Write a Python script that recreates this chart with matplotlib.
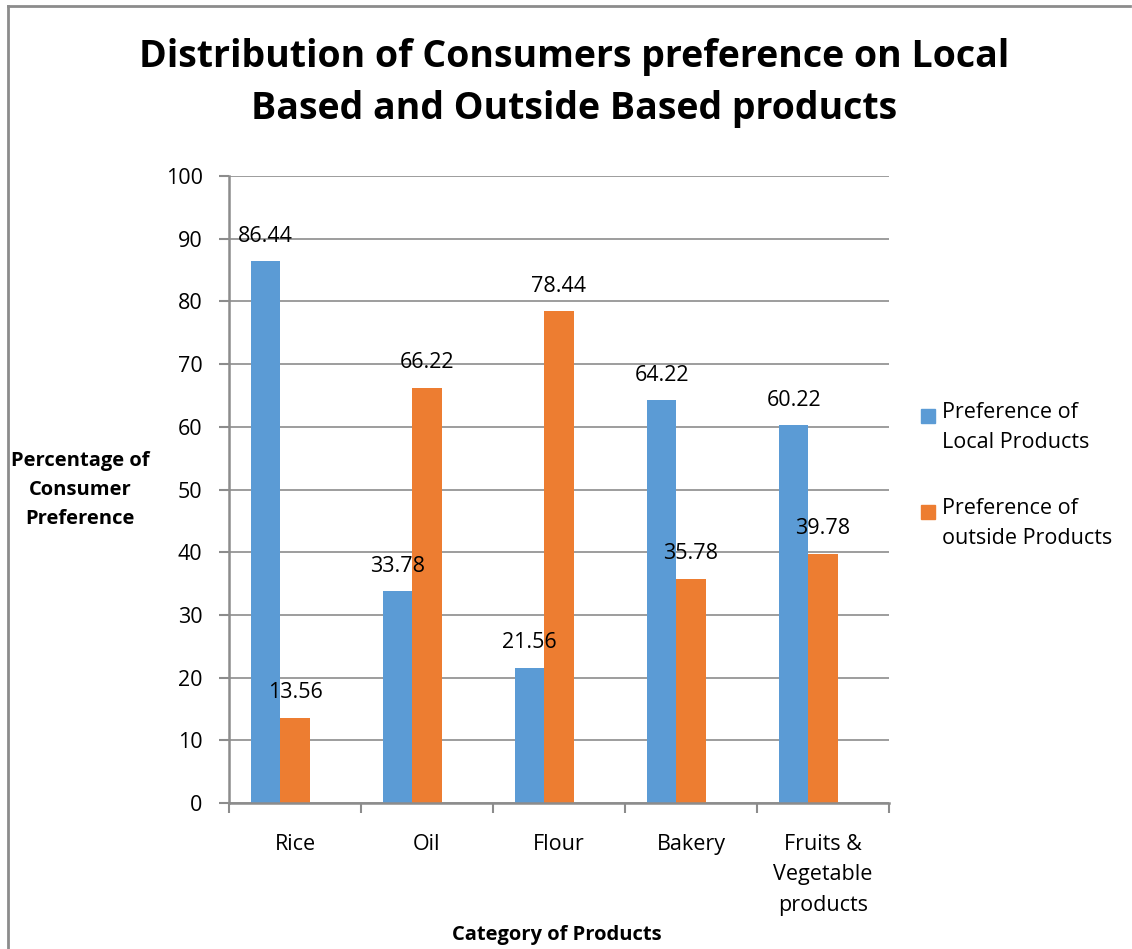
import matplotlib.pyplot as plt
import numpy as np
from matplotlib.lines import Line2D
from matplotlib.patches import Rectangle

plt.rcParams['font.family'] = ['Open Sans', 'DejaVu Sans']

# data
categories = ['Rice', 'Oil', 'Flour', 'Bakery', 'Fruits &\nVegetable\nproducts']
local_pref = [86.44, 33.78, 21.56, 64.22, 60.22]
outside_pref = [13.56, 66.22, 78.44, 35.78, 39.78]
series_names = ['Preference of\nLocal Products', 'Preference of\noutside Products']
colors = ['#5B9BD5', '#ED7D31']

fig = plt.figure(figsize=(11.32, 9.49), dpi=100)
ax = fig.add_axes([229 / 1132, 1 - 803 / 949, 660 / 1132, 627 / 949])

x = np.arange(len(categories))
w = 1 / 4.5  # excel layout: 3 slots + gap width 150%
bars1 = ax.bar(x - w, local_pref, w, color=colors[0], align='edge', zorder=3)
bars2 = ax.bar(x, outside_pref, w, color=colors[1], align='edge', zorder=3)
# shift so groups sit like the original (3rd slot empty)
for b in list(bars1) + list(bars2):
    b.set_x(b.get_x() - w / 2)

for bars, vals in [(bars1, local_pref), (bars2, outside_pref)]:
    for b, v in zip(bars, vals):
        ax.annotate('%.2f' % v, (b.get_x() + b.get_width() / 2, v),
                    xytext=(0, 18), textcoords='offset points',
                    ha='center', va='center', fontsize=15.5, zorder=4)

ax.set_xlim(-0.5, len(categories) - 0.5)
ax.set_ylim(0, 100)
ax.set_yticks(range(0, 101, 10))
ax.set_xticks(x)
ax.set_xticklabels(categories, fontsize=15.5, linespacing=1.62)
ax.set_xticks(np.arange(-0.5, len(categories)), minor=True)
ax.tick_params(axis='x', which='major', length=0, pad=22)
ax.tick_params(axis='x', which='minor', length=7, width=1.5, color='#8c8c8c')
ax.tick_params(axis='y', length=7, width=1.5, color='#8c8c8c', labelsize=15.5, pad=12)

ax.grid(axis='y', color='#8c8c8c', linewidth=1.2, zorder=0)
for s in ['top', 'right']:
    ax.spines[s].set_visible(False)
for s in ['left', 'bottom']:
    ax.spines[s].set_color('#8c8c8c')
    ax.spines[s].set_linewidth(1.8)
    ax.spines[s].set_zorder(3.5)

fig.text(574 / 1132, 1 - 83 / 949,
         'Distribution of Consumers preference on Local\nBased and Outside Based products',
         ha='center', va='center', fontsize=27, fontweight='bold', linespacing=1.5)
fig.text(80 / 1132, 1 - 490 / 949, 'Percentage of\nConsumer\nPreference',
         ha='center', va='center', fontsize=14.5, fontweight='bold', linespacing=1.62)
fig.text(557 / 1132, 1 - 935 / 949, 'Category of Products',
         ha='center', va='center', fontsize=14.5, fontweight='bold')

# legend
for i, (name, c) in enumerate(zip(series_names, colors)):
    yc = 416 + i * 96
    fig.patches.append(Rectangle((921 / 1132, 1 - (yc + 7) / 949), 14 / 1132, 14 / 949,
                                 transform=fig.transFigure, color=c))
    fig.text(942 / 1132, 1 - (yc - 14) / 949, name, ha='left', va='top',
             fontsize=15.5, linespacing=1.58)

# chart area border (left and top visible)
fig.add_artist(Line2D([8 / 1132, 8 / 1132], [0, 1 - 6 / 949], transform=fig.transFigure,
                      color='#8c8c8c', linewidth=2))
fig.add_artist(Line2D([8 / 1132, 1130 / 1132], [1 - 6 / 949, 1 - 6 / 949],
                      transform=fig.transFigure, color='#8c8c8c', linewidth=2))

fig.savefig('out.png', dpi=100)
